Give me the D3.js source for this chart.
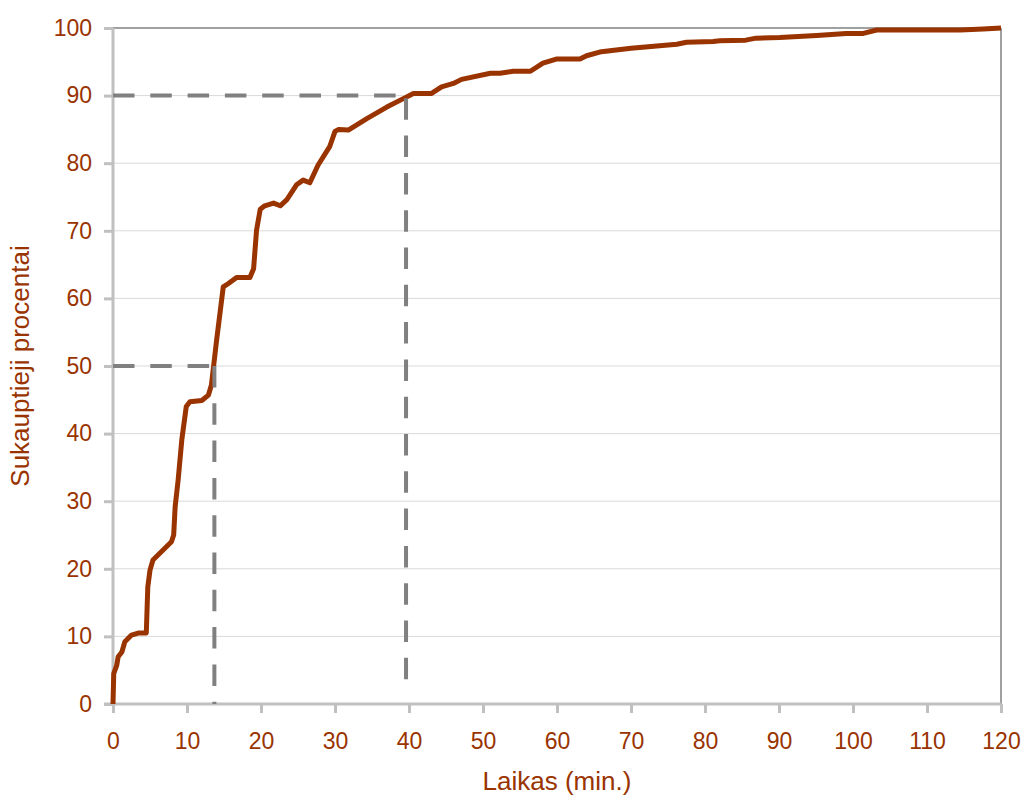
<!DOCTYPE html>
<html>
<head>
<meta charset="utf-8">
<script src="https://cdn.jsdelivr.net/npm/d3@7"></script>
<style>
  html, body { margin: 0; padding: 0; background: #fff; }
  svg text { font-family: "Liberation Sans", Arial, sans-serif; fill: #993300; }
</style>
</head>
<body>
<svg id="chart" width="1024" height="797"></svg>
<script>
// ---- data ----
const minutes = [0,0.1,0.5,0.7,1.2,1.6,2.5,3.4,4.5,4.7,5,5.4,7.9,8.2,8.4,8.8,9.3,9.9,10.4,12,12.9,13.3,14,14.9,15.6,16.7,18.5,19,19.4,19.9,20.5,21.7,22.6,23.5,24.8,25.7,26.6,27.7,29.3,30,30.5,31.8,34.3,37,39.5,40.6,43,44.4,46,47.1,51,52.3,54.1,56.4,58.1,59.9,63.1,64,66,70,76.2,77.5,81.1,82,85.5,86.9,90.1,95.1,99.1,101.4,103.2,114.5,117.6,120];
const percents = [0,4.5,5.7,7,7.7,9.2,10.2,10.5,10.5,17.3,19.8,21.3,24,25,29.2,33.1,39.1,44,44.7,44.9,45.7,47.2,53.8,61.7,62.2,63.1,63.1,64.4,70.1,73.2,73.7,74.1,73.7,74.6,76.8,77.5,77.1,79.7,82.5,84.7,85,84.9,86.6,88.3,89.7,90.3,90.3,91.3,91.8,92.4,93.3,93.3,93.6,93.6,94.8,95.4,95.4,95.9,96.5,97.0,97.6,97.9,98,98.1,98.2,98.5,98.6,98.9,99.2,99.2,99.7,99.7,99.85,100];
const xTicks = [0,10,20,30,40,50,60,70,80,90,100,110,120];
const yTicks = [0,10,20,30,40,50,60,70,80,90,100];
// reference (dashed) lines: median and 90th percentile
const refPercent = [50, 90];
const refMinute = [13.7, 39.6];
const refBottom = [0, 3.5];
const xTitle = "Laikas (min.)";
const yTitle = "Sukauptieji procentai";

// ---- layout ----
const svg = d3.select("#chart");
const L = 113, R = 1001, T = 28, B = 704;
const x = d3.scaleLinear().domain([0, 120]).range([L, R]);
const y = d3.scaleLinear().domain([0, 100]).range([B, T]);
const textColor = "#993300";

// gridlines
svg.append("g").selectAll("line").data(yTicks.filter(d => d > 0 && d < 100)).join("line")
  .attr("x1", L).attr("x2", R).attr("y1", d => y(d)).attr("y2", d => y(d))
  .attr("stroke", "#d9d9d9").attr("stroke-width", 1);

// top & right border
svg.append("line").attr("x1", L).attr("x2", R).attr("y1", y(100)).attr("y2", y(100))
  .attr("stroke", "#808080").attr("stroke-width", 1.5);
svg.append("line").attr("x1", R).attr("x2", R).attr("y1", y(100)).attr("y2", B)
  .attr("stroke", "#808080").attr("stroke-width", 1.5);

// axes
const yAxis = d3.axisLeft(y).tickValues(yTicks).tickSize(9).tickPadding(12).tickSizeOuter(0);
const gy = svg.append("g").attr("transform", `translate(${L},0)`).call(yAxis);
const xAxis = d3.axisBottom(x).tickValues(xTicks).tickSize(9).tickPadding(20).tickSizeOuter(0);
const gx = svg.append("g").attr("transform", `translate(0,${B})`).call(xAxis);
[gx, gy].forEach(g => {
  g.select(".domain").attr("stroke", "#c0c0c0").attr("stroke-width", 3);
  g.selectAll(".tick line").attr("stroke", "#c0c0c0").attr("stroke-width", 3);
  g.selectAll(".tick text").attr("font-size", 23).attr("fill", textColor)
    .attr("font-family", "'Liberation Sans', Arial, sans-serif");
});
gy.select(".domain").attr("d", `M0,${B + 1.5}V${T}`);
gx.select(".domain").attr("d", `M${L - 9},0H${R}`);

// curve
const pts = minutes.map((m, i) => [m, percents[i]]);
svg.append("path").datum(pts)
  .attr("d", d3.line().x(d => x(d[0])).y(d => y(d[1])))
  .attr("fill", "none").attr("stroke", "#993300").attr("stroke-width", 5)
  .attr("stroke-linejoin", "round").attr("stroke-linecap", "butt");

// dashed reference lines
refPercent.forEach((p, i) => {
  svg.append("line")
    .attr("x1", x(0)).attr("x2", x(refMinute[i])).attr("y1", y(p)).attr("y2", y(p))
    .attr("stroke", "#808080").attr("stroke-width", 4).attr("stroke-dasharray", "21.5,15.8");
  svg.append("line")
    .attr("x1", x(refMinute[i])).attr("x2", x(refMinute[i]))
    .attr("y1", y(p) + (i === 1 ? 2.7 : 0)).attr("y2", y(refBottom[i]))
    .attr("stroke", "#808080").attr("stroke-width", 4).attr("stroke-dasharray", "21.5,15.8");
});

// titles
svg.append("text").attr("x", (L + R) / 2).attr("y", 790).attr("text-anchor", "middle")
  .attr("font-size", 26).text(xTitle);
svg.append("text").attr("transform", `translate(29,${(T + B) / 2}) rotate(-90)`)
  .attr("text-anchor", "middle").attr("font-size", 26).text(yTitle);
</script>
</body>
</html>
